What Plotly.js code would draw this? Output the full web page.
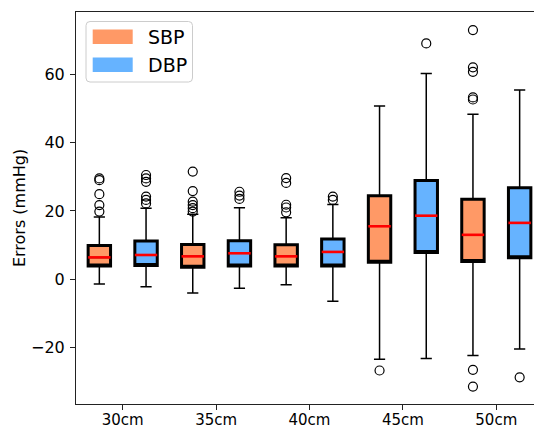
<!DOCTYPE html>
<html>
<head>
<meta charset="utf-8">
<script src="https://cdn.plot.ly/plotly-3.0.1.min.js"></script>
<style>
html,body{margin:0;padding:0;overflow:hidden;background:#fff;width:534px;height:430px;}
#chart{width:553px;height:430px;}
</style>
</head>
<body>
<div id="chart"></div>
<script>
// ---- data ----
const categories = ['30cm', '35cm', '40cm', '45cm', '50cm'];
const seriesNames = ['SBP', 'DBP'];

const sbpQ1   = [3.9, 3.5, 3.9, 5.0, 5.2];
const sbpMed  = [6.4, 6.7, 6.7, 15.5, 13.0];
const sbpQ3   = [9.9, 10.2, 10.1, 24.4, 23.4];
const sbpLow  = [-1.4, -4.0, -1.6, -23.4, -22.3];
const sbpHigh = [18.2, 19.0, 18.0, 50.7, 48.3];

const dbpQ1   = [4.0, 3.9, 3.9, 7.8, 6.3];
const dbpMed  = [7.1, 7.6, 8.0, 18.6, 16.5];
const dbpQ3   = [11.2, 11.3, 11.8, 28.9, 26.8];
const dbpLow  = [-2.2, -2.6, -6.4, -23.2, -20.4];
const dbpHigh = [20.8, 20.9, 21.9, 60.2, 55.4];

const sbpOutliers = [
  [19.8, 21.7, 24.9, 29.0, 29.5],
  [19.8, 20.8, 21.7, 22.7, 25.8, 31.5],
  [19.6, 21.0, 21.8, 28.2, 29.6],
  [-26.7],
  [72.9, 62.0, 60.7, 53.2, 52.6, -26.5, -31.4]
];
const dbpOutliers = [
  [22.2, 23.2, 24.2, 28.5, 29.5, 30.5],
  [23.5, 24.5, 25.6],
  [23.2, 24.2],
  [69.0],
  [-28.7]
];

const yTicks = [-20, 0, 20, 40, 60];

// ---- styling ----
const colors = {SBP: '#ff9966', DBP: '#66b3ff'};
const offset = 0.25, boxW = 0.24;
const FONT = 'DejaVu Sans, Liberation Sans, sans-serif';

const positions = categories.map((c, i) => i + 1);

function series(name, q1, med, q3, lo, hi, outs, dx) {
  const xs = positions.map(p => p + dx);
  const traces = [];
  // filled box + thin whiskers
  traces.push({
    type: 'box', name: name, x: xs, q1: q1, median: med, q3: q3,
    lowerfence: lo, upperfence: hi, width: boxW, whiskerwidth: 0.5,
    fillcolor: colors[name], line: {color: 'black', width: 1.5},
    boxpoints: false, hoverinfo: 'skip', showlegend: false
  });
  // thick frame
  traces.push({
    type: 'box', name: name, x: xs, q1: q1, median: q1, q3: q3,
    lowerfence: q1, upperfence: q3, width: boxW, whiskerwidth: 0,
    fillcolor: 'rgba(0,0,0,0)', line: {color: 'black', width: 3},
    boxpoints: false, hoverinfo: 'skip', showlegend: false
  });
  // red median
  const mx = [], my = [];
  xs.forEach((x, i) => { mx.push(x - boxW / 2, x + boxW / 2, null); my.push(med[i], med[i], null); });
  traces.push({
    type: 'scatter', mode: 'lines', x: mx, y: my,
    line: {color: '#ff0000', width: 2.6}, hoverinfo: 'skip', showlegend: false
  });
  // outliers
  const ox = [], oy = [];
  outs.forEach((arr, i) => arr.forEach(v => { ox.push(xs[i]); oy.push(v); }));
  traces.push({
    type: 'scatter', mode: 'markers', x: ox, y: oy,
    marker: {symbol: 'circle-open', size: 9, color: 'black', line: {width: 1.2}},
    hoverinfo: 'skip', showlegend: false
  });
  return traces;
}

const data = [].concat(
  series('SBP', sbpQ1, sbpMed, sbpQ3, sbpLow, sbpHigh, sbpOutliers, -offset),
  series('DBP', dbpQ1, dbpMed, dbpQ3, dbpLow, dbpHigh, dbpOutliers, offset)
);

// legend (drawn manually, matplotlib style)
const W = 467, H = 392;          // plot area in px
const px = v => (v - 76) / W;    // helpers: page px -> paper
const py = v => (404 - v) / H;
function roundRect(x0, y0, x1, y1, r) {
  const rx = r / W, ry = r / H;
  const a = px(x0), b = px(x1), t = py(y0), u = py(y1);
  return `M${a + rx},${t} L${b - rx},${t} Q${b},${t} ${b},${t - ry} L${b},${u + ry} Q${b},${u} ${b - rx},${u} L${a + rx},${u} Q${a},${u} ${a},${u + ry} L${a},${t - ry} Q${a},${t} ${a + rx},${t} Z`;
}
const shapes = [
  {type: 'path', xref: 'paper', yref: 'paper', path: roundRect(86, 21.5, 192.5, 82, 4),
   fillcolor: 'rgba(255,255,255,0.8)', line: {color: '#cccccc', width: 1}},
];
const annotations = [];
const legRows = [36.7, 64.7];
seriesNames.forEach((n, i) => {
  const cy = legRows[i];
  shapes.push({type: 'rect', xref: 'paper', yref: 'paper',
    x0: px(92.7), x1: px(132.7), y0: py(cy - 7.3), y1: py(cy + 7.3),
    fillcolor: colors[n], line: {width: 0}});
  annotations.push({xref: 'paper', yref: 'paper', x: px(146), y: py(cy),
    xanchor: 'left', yanchor: 'middle', showarrow: false, text: n,
    font: {family: FONT, size: 19, color: 'black'}});
});

const layout = {
  width: 553, height: 430,
  margin: {l: 76, r: 10, t: 12, b: 26},
  paper_bgcolor: 'white', plot_bgcolor: 'white',
  showlegend: false, boxmode: 'overlay',
  font: {family: FONT, size: 16, color: 'black'},
  xaxis: {
    range: [0.5, 5.5], tickmode: 'array', tickvals: positions, ticktext: categories,
    showgrid: false, zeroline: false, showline: true, mirror: true,
    linecolor: '#222', linewidth: 1, ticks: 'outside', ticklen: 5, tickcolor: '#222',
    tickfont: {family: FONT, size: 15}, ticklabelstandoff: -3, automargin: false
  },
  yaxis: {
    range: [-36.5, 78.2], tickmode: 'array', tickvals: yTicks,
    showgrid: false, zeroline: false, showline: true, mirror: true,
    linecolor: '#222', linewidth: 1, ticks: 'outside', ticklen: 5, tickcolor: '#222',
    tickfont: {family: FONT, size: 16}, ticklabelstandoff: 2, automargin: false,
    title: {text: 'Errors (mmHg)', font: {family: FONT, size: 16}, standoff: 1}
  },
  shapes: shapes,
  annotations: annotations
};

Plotly.newPlot('chart', data, layout, {staticPlot: true, displayModeBar: false});
</script>
</body>
</html>
